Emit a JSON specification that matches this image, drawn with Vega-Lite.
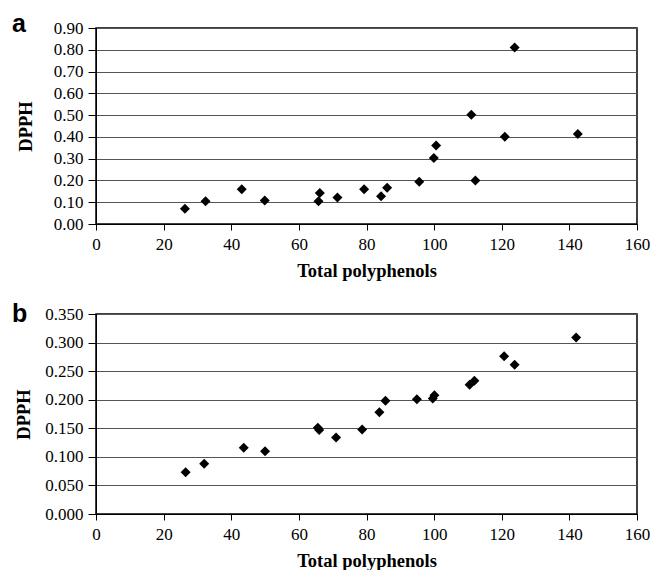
{
  "$schema": "https://vega.github.io/schema/vega-lite/v6.json",
  "padding": {"left": 11, "top": 11, "right": 0, "bottom": 0},
  "background": "white",
  "spacing": 20,
  "config": {
    "view": {"stroke": "black", "strokeWidth": 1.5},
    "font": "Liberation Serif",
    "axis": {
      "labelFont": "Liberation Serif",
      "labelFontSize": 17,
      "labelColor": "black",
      "labelFlush": false,
      "labelOverlap": false,
      "titleFont": "Liberation Serif",
      "titleFontWeight": "bold",
      "titleFontSize": 18.5,
      "titleColor": "black",
      "domainColor": "black",
      "tickColor": "black",
      "gridColor": "#555555",
      "gridWidth": 1
    },
    "axisX": {"tickSize": 6, "labelPadding": 6, "titlePadding": 9, "grid": false},
    "axisY": {"tickSize": 8, "labelPadding": 5, "titlePadding": 18, "grid": true},
    "title": {"font": "Liberation Sans", "fontSize": 25, "fontWeight": "bold", "color": "black", "anchor": "start", "frame": "group", "offset": 0}
  },
  "datasets": {
    "panelA": [
      {"tp": 26.3, "dpph": 0.070},
      {"tp": 32.4, "dpph": 0.104},
      {"tp": 43.1, "dpph": 0.160},
      {"tp": 49.9, "dpph": 0.108},
      {"tp": 65.8, "dpph": 0.104},
      {"tp": 66.2, "dpph": 0.142},
      {"tp": 71.4, "dpph": 0.122},
      {"tp": 79.3, "dpph": 0.160},
      {"tp": 84.3, "dpph": 0.127},
      {"tp": 86.1, "dpph": 0.167},
      {"tp": 95.6, "dpph": 0.194},
      {"tp": 99.9, "dpph": 0.303},
      {"tp": 100.6, "dpph": 0.361},
      {"tp": 111.0, "dpph": 0.502},
      {"tp": 112.2, "dpph": 0.200},
      {"tp": 120.9, "dpph": 0.401},
      {"tp": 123.8, "dpph": 0.810},
      {"tp": 142.5, "dpph": 0.413}
    ],
    "panelB": [
      {"tp": 26.5, "dpph": 0.073},
      {"tp": 32.0, "dpph": 0.088},
      {"tp": 43.7, "dpph": 0.116},
      {"tp": 50.0, "dpph": 0.110},
      {"tp": 65.6, "dpph": 0.151},
      {"tp": 66.0, "dpph": 0.147},
      {"tp": 71.0, "dpph": 0.134},
      {"tp": 78.7, "dpph": 0.148},
      {"tp": 83.8, "dpph": 0.178},
      {"tp": 85.6, "dpph": 0.198},
      {"tp": 94.9, "dpph": 0.201},
      {"tp": 99.6, "dpph": 0.202},
      {"tp": 100.1, "dpph": 0.208},
      {"tp": 110.5, "dpph": 0.226},
      {"tp": 111.9, "dpph": 0.233},
      {"tp": 120.7, "dpph": 0.276},
      {"tp": 123.8, "dpph": 0.261},
      {"tp": 142.0, "dpph": 0.309}
    ]
  },
  "vconcat": [
    {
      "title": {"text": "a", "dx": -84, "dy": 22},
      "width": 541,
      "height": 196,
      "data": {"name": "panelA"},
      "mark": {"type": "point", "shape": "diamond", "filled": true, "color": "black", "size": 100, "opacity": 1},
      "encoding": {
        "x": {"field": "tp", "type": "quantitative", "title": "Total polyphenols",
              "scale": {"domain": [0, 160], "nice": false},
              "axis": {"values": [0, 20, 40, 60, 80, 100, 120, 140, 160]}},
        "y": {"field": "dpph", "type": "quantitative", "title": "DPPH",
              "scale": {"domain": [0, 0.9], "nice": false},
              "axis": {"values": [0, 0.1, 0.2, 0.3, 0.4, 0.5, 0.6, 0.7, 0.8, 0.9], "format": ".2f"}}
      }
    },
    {
      "title": {"text": "b", "dx": -84, "dy": 26},
      "width": 541,
      "height": 200,
      "data": {"name": "panelB"},
      "mark": {"type": "point", "shape": "diamond", "filled": true, "color": "black", "size": 100, "opacity": 1},
      "encoding": {
        "x": {"field": "tp", "type": "quantitative", "title": "Total polyphenols",
              "scale": {"domain": [0, 160], "nice": false},
              "axis": {"values": [0, 20, 40, 60, 80, 100, 120, 140, 160]}},
        "y": {"field": "dpph", "type": "quantitative", "title": "DPPH",
              "scale": {"domain": [0, 0.35], "nice": false},
              "axis": {"values": [0, 0.05, 0.1, 0.15, 0.2, 0.25, 0.3, 0.35], "format": ".3f", "titlePadding": 11}}
      }
    }
  ]
}
